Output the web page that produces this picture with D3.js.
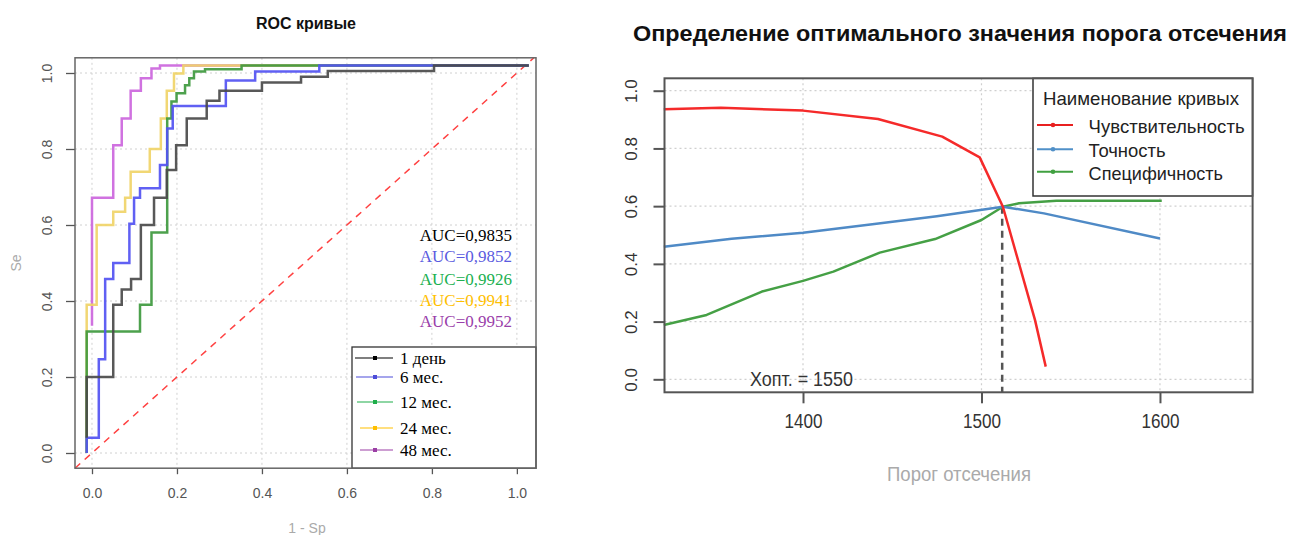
<!DOCTYPE html>
<html><head><meta charset="utf-8">
<script src="https://cdn.jsdelivr.net/npm/d3@7"></script>
<style>body{margin:0;background:#fff}svg{display:block}</style>
</head><body><svg id="c" width="1290" height="535"></svg>
<script>
// ---------- Left chart: ROC curves ----------
const rocSeries = ["1 день", "6 мес.", "12 мес.", "24 мес.", "48 мес."];
const aucLabels = ["AUC=0,9835", "AUC=0,9852", "AUC=0,9926", "AUC=0,9941", "AUC=0,9952"];
const fpr1d  = [-0.0125, -0.0125, 0.05, 0.07, 0.092, 0.115, 0.146, 0.176, 0.198, 0.223, 0.27, 0.30, 0.40, 0.492, 0.555, 0.805, 1.028];
const tpr1d  = [0.04, 0.2, 0.39, 0.43, 0.458, 0.60, 0.672, 0.745, 0.81, 0.88, 0.927, 0.953, 0.975, 0.99, 1.005, 1.02, 1.02];
const fpr6m  = [-0.0125, -0.0125, 0.016, 0.031, 0.05, 0.088, 0.099, 0.113, 0.16, 0.177, 0.19, 0.315, 0.384, 0.535, 1.028];
const tpr6m  = [0, 0.04, 0.247, 0.458, 0.50, 0.603, 0.672, 0.697, 0.758, 0.854, 0.913, 0.98, 1.004, 1.02, 1.02];
const fpr12m = [-0.0125, -0.0125, 0.113, 0.14, 0.177, 0.187, 0.199, 0.219, 0.229, 0.24, 0.266, 0.352, 1.028];
const tpr12m = [0, 0.32, 0.39, 0.58, 0.88, 0.925, 0.947, 0.968, 0.986, 1.004, 1.01, 1.02, 1.02];
const fpr24m = [-0.0125, -0.0125, 0.011, 0.05, 0.078, 0.091, 0.136, 0.162, 0.176, 0.193, 0.215, 1.028];
const tpr24m = [0, 0.39, 0.60, 0.635, 0.672, 0.74, 0.80, 0.88, 0.953, 0.999, 1.02, 1.02];
const fpr48m = [0, 0, 0.05, 0.07, 0.091, 0.115, 0.14, 0.16, 1.028];
const tpr48m = [0.335, 0.672, 0.81, 0.88, 0.953, 0.986, 1.012, 1.02, 1.02];
const rocTicks = [0, 0.2, 0.4, 0.6, 0.8, 1.0];

// ---------- Right chart: optimal cutoff ----------
const curveNames = ["Чувствительность", "Точность", "Специфичность"];
const thrSens = [1322, 1354, 1400, 1442, 1478, 1499, 1512, 1530, 1536];
const sens    = [0.936, 0.941, 0.931, 0.902, 0.841, 0.769, 0.598, 0.205, 0.044];
const thrAcc  = [1322, 1360, 1400, 1440, 1475, 1512, 1535, 1600];
const acc     = [0.459, 0.487, 0.508, 0.538, 0.565, 0.598, 0.575, 0.488];
const thrSpec = [1322, 1346, 1377, 1400, 1417, 1443, 1474, 1500, 1512, 1521, 1542, 1601];
const spec    = [0.188, 0.223, 0.304, 0.341, 0.373, 0.439, 0.486, 0.552, 0.598, 0.61, 0.619, 0.619];
const cutTicksX = [1400, 1500, 1600];
const cutTicksY = [0, 0.2, 0.4, 0.6, 0.8, 1.0];
const xOpt = 1511.6;
const xOptLabel = "Хопт. = 1550";

const svg = d3.select("#c");
const SANS = "'Liberation Sans', Arial, sans-serif";
const SERIF = "'Liberation Serif', 'Times New Roman', serif";

function tl(g, str, x, y, o) {
  const t = g.append("text").attr("x", x).attr("y", y).text(str)
    .attr("font-family", o.family || SANS).attr("font-size", o.size)
    .attr("fill", o.fill || "#222");
  if (o.bold) t.attr("font-weight", "bold");
  if (o.len) t.attr("textLength", o.len).attr("lengthAdjust", "spacingAndGlyphs");
  if (o.anchor) t.attr("text-anchor", o.anchor);
  if (o.baseline) t.attr("dominant-baseline", o.baseline);
  return t;
}

// ===== Left chart =====
const L = svg.append("g");
const xL = d3.scaleLinear().domain([-0.04, 1.045]).range([75, 536]);
const yL = d3.scaleLinear().domain([-0.04, 1.04]).range([468.2, 57.8]);

L.append("g").selectAll("line").data(rocTicks).join("line")
  .attr("x1", d => xL(d)).attr("x2", d => xL(d)).attr("y1", yL.range()[1]).attr("y2", yL.range()[0])
  .attr("stroke", "#d0d0d0").attr("stroke-dasharray", "2,3");
L.append("g").selectAll("line").data(rocTicks).join("line")
  .attr("y1", d => yL(d)).attr("y2", d => yL(d)).attr("x1", xL.range()[0]).attr("x2", xL.range()[1])
  .attr("stroke", "#d0d0d0").attr("stroke-dasharray", "2,3");

L.append("line").attr("x1", xL(-0.04)).attr("y1", yL(-0.04)).attr("x2", xL(1.04)).attr("y2", yL(1.04))
  .attr("stroke", "#ff4040").attr("stroke-width", 1.5).attr("stroke-dasharray", "7,6");

const rocData = [
  {fpr: fpr48m, tpr: tpr48m, c: "#cc66dd"},
  {fpr: fpr24m, tpr: tpr24m, c: "#f0d468"},
  {fpr: fpr12m, tpr: tpr12m, c: "#3e993e"},
  {fpr: fpr6m,  tpr: tpr6m,  c: "#5252f2"},
  {fpr: fpr1d,  tpr: tpr1d,  c: "#4a4a4a"}
];
const stepLine = d3.line().x(d => xL(d[0])).y(d => yL(d[1])).curve(d3.curveStepAfter);
rocData.forEach(s => {
  L.append("path").attr("d", stepLine(d3.zip(s.fpr, s.tpr)))
    .attr("fill", "none").attr("stroke", s.c).attr("stroke-width", 2.5).attr("opacity", 0.92);
});

const axB = L.append("g").attr("transform", `translate(0,${yL.range()[0]})`)
  .call(d3.axisBottom(xL).tickValues(rocTicks).tickFormat(d3.format(".1f")).tickSize(6).tickSizeOuter(0));
axB.select(".domain").remove();
axB.selectAll("line").attr("stroke", "#555").attr("stroke-width", 1.3);
axB.selectAll("text").attr("y", 25).attr("dy", "0.35em").attr("font-size", 14)
  .attr("font-family", SANS).attr("fill", "#555");
const axLft = L.append("g").attr("transform", `translate(${xL.range()[0]},0)`)
  .call(d3.axisLeft(yL).tickValues(rocTicks).tickFormat(d3.format(".1f")).tickSize(9).tickSizeOuter(0));
axLft.select(".domain").remove();
axLft.selectAll("line").attr("stroke", "#555").attr("stroke-width", 1.3);
axLft.selectAll("text").attr("x", 0).attr("y", 0).attr("dy", "0.35em")
  .attr("transform", "translate(-28,0) rotate(-90)").attr("text-anchor", "middle")
  .attr("font-size", 14).attr("font-family", SANS).attr("fill", "#555");

L.append("rect").attr("x", 352).attr("y", 347).attr("width", xL.range()[1] - 352).attr("height", yL.range()[0] - 347)
  .attr("fill", "#fff").attr("stroke", "#333").attr("stroke-width", 1.3);
const legColors = ["#000000", "#4d4dd9", "#1fae4a", "#ffbf00", "#9b3fa5"];
const legY = [358, 377, 402, 428, 450];
const legX0 = [355, 356, 357, 360, 360];
rocSeries.forEach((name, i) => {
  L.append("line").attr("x1", legX0[i]).attr("x2", 393).attr("y1", legY[i]).attr("y2", legY[i])
    .attr("stroke", legColors[i]).attr("stroke-width", 1.2);
  L.append("rect").attr("x", 373).attr("y", legY[i] - 2).attr("width", 4).attr("height", 4).attr("fill", legColors[i]);
  tl(L, name, 400, legY[i], {size: 17, family: SERIF, fill: "#000", baseline: "central"});
});

L.append("rect").attr("x", xL.range()[0]).attr("y", yL.range()[1])
  .attr("width", xL.range()[1] - xL.range()[0]).attr("height", yL.range()[0] - yL.range()[1])
  .attr("fill", "none").attr("stroke", "#666").attr("stroke-width", 1.5);

const aucColors = ["#000000", "#5b5be0", "#20b050", "#ffc000", "#9a40aa"];
const aucY = [235, 256.7, 279.3, 300, 321.7];
aucLabels.forEach((a, i) => {
  tl(L, a, 512, aucY[i], {size: 17, family: SERIF, fill: aucColors[i], anchor: "end", baseline: "central"});
});

tl(L, "ROC кривые", 306, 29, {size: 16, bold: true, anchor: "middle", fill: "#111"});
tl(L, "1 - Sp", 307, 528, {size: 14, anchor: "middle", fill: "#aaa", baseline: "central"});
tl(L, "Se", 0, 0, {size: 14, anchor: "middle", fill: "#aaa", baseline: "central"})
  .attr("transform", "translate(16,263) rotate(-90)");

// ===== Right chart =====
const R = svg.append("g");
const xR = d3.scaleLinear().domain([1322.4, 1651.9]).range([664.5, 1252.6]);
const yR = d3.scaleLinear().domain([-0.045, 1.043]).range([392.3, 78.3]);

R.append("g").selectAll("line").data(cutTicksX).join("line")
  .attr("x1", d => xR(d)).attr("x2", d => xR(d)).attr("y1", yR.range()[1]).attr("y2", yR.range()[0])
  .attr("stroke", "#cfcfcf").attr("stroke-width", 1.2).attr("stroke-dasharray", "2,3");
R.append("g").selectAll("line").data(cutTicksY).join("line")
  .attr("y1", d => yR(d)).attr("y2", d => yR(d)).attr("x1", xR.range()[0]).attr("x2", xR.range()[1])
  .attr("stroke", "#cfcfcf").attr("stroke-width", 1.2).attr("stroke-dasharray", "2,3");

R.append("line").attr("x1", xR(xOpt)).attr("x2", xR(xOpt)).attr("y1", yR(0.598)).attr("y2", yR.range()[0])
  .attr("stroke", "#555").attr("stroke-width", 2.5).attr("stroke-dasharray", "7,5");

const lin = d3.line().x(d => xR(d[0])).y(d => yR(d[1]));
const cutData = [
  {x: thrSpec, y: spec, c: "#45a045"},
  {x: thrAcc,  y: acc,  c: "#4f8ac6"},
  {x: thrSens, y: sens, c: "#f52a2a"}
];
cutData.forEach(s => {
  R.append("path").attr("d", lin(d3.zip(s.x, s.y))).attr("fill", "none")
    .attr("stroke", s.c).attr("stroke-width", 2.5).attr("stroke-linejoin", "round");
});

const axRB = R.append("g").attr("transform", `translate(0,${yR.range()[0]})`)
  .call(d3.axisBottom(xR).tickValues(cutTicksX).tickFormat(d3.format("d")).tickSize(11).tickSizeOuter(0));
axRB.select(".domain").remove();
axRB.selectAll("line").attr("stroke", "#555").attr("stroke-width", 2);
axRB.selectAll("text").attr("y", 35.7).attr("dy", null).attr("font-size", 21)
  .attr("font-family", SANS).attr("fill", "#333").attr("textLength", 38).attr("lengthAdjust", "spacingAndGlyphs");
const axRL = R.append("g").attr("transform", `translate(${xR.range()[0]},0)`)
  .call(d3.axisLeft(yR).tickValues(cutTicksY).tickFormat(d3.format(".1f")).tickSize(11).tickSizeOuter(0));
axRL.select(".domain").remove();
axRL.selectAll("line").attr("stroke", "#555").attr("stroke-width", 2);
axRL.selectAll("text").attr("x", 0).attr("y", 0).attr("dy", "0.35em")
  .attr("transform", "translate(-33,0) rotate(-90)").attr("text-anchor", "middle")
  .attr("font-size", 17).attr("font-family", SANS).attr("fill", "#333");

R.append("rect").attr("x", 1033).attr("y", yR.range()[1]).attr("width", xR.range()[1] - 1033).attr("height", 196 - yR.range()[1])
  .attr("fill", "#fff").attr("stroke", "#333").attr("stroke-width", 1.5);
tl(R, "Наименование кривых", 1043, 105, {size: 18.5, len: 196, fill: "#222"});
const legRColors = ["#e82020", "#5090c8", "#40a040"];
const legRY = [125, 149.3, 171.7];
const legRBase = [133.3, 157.3, 180.3];
const legRLen = [156, 77, 134.4];
curveNames.forEach((n, i) => {
  R.append("line").attr("x1", 1037).attr("x2", 1073).attr("y1", legRY[i]).attr("y2", legRY[i])
    .attr("stroke", legRColors[i]).attr("stroke-width", 2);
  R.append("circle").attr("cx", 1053).attr("cy", legRY[i]).attr("r", 2.3).attr("fill", legRColors[i]);
  tl(R, n, 1088.6, legRBase[i], {size: 18.5, len: legRLen[i], fill: "#222"});
});

R.append("rect").attr("x", xR.range()[0]).attr("y", yR.range()[1])
  .attr("width", xR.range()[1] - xR.range()[0]).attr("height", yR.range()[0] - yR.range()[1])
  .attr("fill", "none").attr("stroke", "#555").attr("stroke-width", 2);

tl(R, xOptLabel, 750, 385.7, {size: 21, len: 103, fill: "#333"});
tl(R, "Определение оптимального значения порога отсечения", 633, 41, {size: 22, bold: true, len: 654, fill: "#111"});
tl(R, "Порог отсечения", 887, 481, {size: 21, len: 144, fill: "#aaa"});
</script></body></html>
